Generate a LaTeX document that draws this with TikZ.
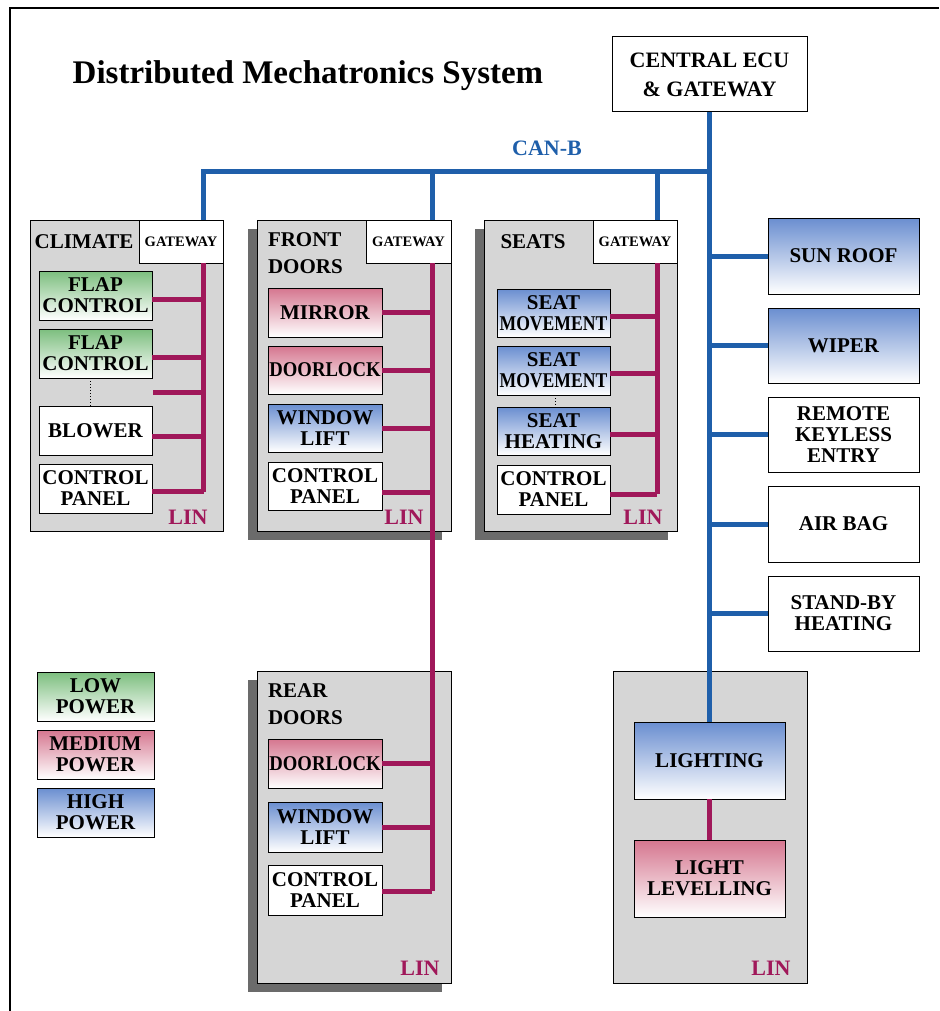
\documentclass[tikz,border=0pt]{standalone}
\usepackage{fontspec}
\setmainfont{Liberation Serif}
\usetikzlibrary{shadows}
\definecolor{canblue}{HTML}{1F5FAA}
\definecolor{linmag}{HTML}{A0185A}
\definecolor{contgray}{HTML}{D6D6D6}
\definecolor{shadowgray}{HTML}{6B6B6B}
\definecolor{greentop}{HTML}{7CBE7E}
\definecolor{pinktop}{HTML}{D5768F}
\definecolor{bluetop}{HTML}{6A8ED0}
\newcommand\bx[7]{\node[#6, minimum width={(#4-#2)*1pt}, minimum height={(#5-#3)*1pt}] (#1) at ({(#2+#4)/2},{(#3+#5)/2}) {#7};}
\newcommand\sq[2]{\scalebox{#1}[1]{#2}}
\tikzset{
  every node/.style={font=\bfseries\fontsize{21}{21}\selectfont, align=center, inner sep=0pt, outer sep=0pt},
  unit/.style={draw=black, line width=1pt, fill=white},
  lowp/.style={unit, top color=greentop, bottom color=white, draw=black},
  medp/.style={unit, top color=pinktop, bottom color=white, draw=black},
  highp/.style={unit, top color=bluetop, bottom color=white, draw=black},
  gw/.style={unit, font=\bfseries\fontsize{14.5}{14.5}\selectfont},
  cont/.style={draw=black, line width=1pt, fill=contgray},
  contsh/.style={cont, drop shadow={shadow xshift=-9pt, shadow yshift=-9pt, fill=shadowgray, opacity=1}},
  can/.style={draw=canblue, line width=5pt},
  lin/.style={draw=linmag, line width=5pt},
  linlabel/.style={text=linmag, font=\bfseries\fontsize{22}{22}\selectfont},
  dots/.style={draw=black, dotted, line width=1pt},
  grp/.style={anchor=north west, align=left, font=\bfseries\fontsize{21}{27}\selectfont}
}
\begin{document}
\begin{tikzpicture}[x=1pt,y=-1pt]
\useasboundingbox (0,0) rectangle (939,1011);
\draw[line width=1.2pt] (10,1011) -- (10,8) -- (939,8);

\node[font=\bfseries\fontsize{33}{33}\selectfont] (title) at (308,76) {Distributed Mechatronics System};
\bx{ecu}{612}{37}{807}{112}{unit, font=\bfseries\fontsize{22}{29}\selectfont}{CENTRAL ECU\\\& GATEWAY}
\node[text=canblue, font=\bfseries\fontsize{22}{22}\selectfont] (canlabel) at (547,148) {CAN-B};

% ---------- CLIMATE ----------
\bx{climate}{30}{220}{223}{531}{cont}{}
\bx{gwc}{139}{220}{223}{263}{gw}{GATEWAY}
\node[grp, anchor=center] (climl) at (84,242) {CLIMATE};
\bx{flap1}{39}{271}{152}{320}{lowp}{FLAP\\CONTROL}
\bx{flap2}{39}{329}{152}{378}{lowp}{FLAP\\CONTROL}
\bx{blower}{39}{406}{152}{455}{unit}{BLOWER}
\bx{cpc}{39}{464}{152}{513}{unit}{CONTROL\\PANEL}
\node[linlabel] (linc) at (188,517) {LIN};

% ---------- FRONT DOORS ----------
\bx{front}{257}{220}{451}{531}{contsh}{}
\bx{gwf}{366}{220}{451}{263}{gw}{GATEWAY}
\node[grp] (frontl) at (268,233) {FRONT\\DOORS};
\bx{mirror}{268}{288}{382}{337}{medp}{MIRROR}
\bx{dlf}{268}{346}{382}{394}{medp}{\sq{0.89}{DOORLOCK}}
\bx{wlf}{268}{404}{382}{452}{highp}{WINDOW\\LIFT}
\bx{cpf}{268}{462}{382}{510}{unit}{CONTROL\\PANEL}
\node[linlabel] (linf) at (404,517) {LIN};

% ---------- SEATS ----------
\bx{seats}{484}{220}{677}{531}{contsh}{}
\bx{gws}{593}{220}{677}{263}{gw}{GATEWAY}
\node[grp, anchor=center] (seatsl) at (533,242) {SEATS};
\bx{sm1}{497}{289}{610}{337}{highp}{SEAT\\\sq{0.84}{MOVEMENT}}
\bx{sm2}{497}{346}{610}{395}{highp}{SEAT\\\sq{0.84}{MOVEMENT}}
\bx{sh}{497}{407}{610}{455}{highp}{SEAT\\HEATING}
\bx{cps}{497}{465}{610}{514}{unit}{CONTROL\\PANEL}
\node[linlabel] (lins) at (643,517) {LIN};

% ---------- RIGHT COLUMN ----------
\bx{sunroof}{768}{218}{919}{294}{highp}{SUN ROOF}
\bx{wiper}{768}{308}{919}{383}{highp}{WIPER}
\bx{rke}{768}{397}{919}{472}{unit}{REMOTE\\KEYLESS\\ENTRY}
\bx{airbag}{768}{486}{919}{562}{unit}{AIR BAG}
\bx{standby}{768}{576}{919}{651}{unit}{STAND-BY\\HEATING}

% ---------- LEGEND ----------
\bx{leglow}{37}{672}{154}{721}{lowp}{LOW\\POWER}
\bx{legmed}{37}{730}{154}{779}{medp}{MEDIUM\\POWER}
\bx{leghigh}{37}{788}{154}{837}{highp}{HIGH\\POWER}

% ---------- REAR DOORS ----------
\bx{rear}{257}{671}{451}{983}{contsh}{}
\node[grp] (rearl) at (268,684) {REAR\\DOORS};
\bx{dlr}{268}{739}{382}{788}{medp}{\sq{0.89}{DOORLOCK}}
\bx{wlr}{268}{802}{382}{852}{highp}{WINDOW\\LIFT}
\bx{cpr}{268}{865}{382}{915}{unit}{CONTROL\\PANEL}
\node[linlabel] (linr) at (420,968) {LIN};

% ---------- LIGHTING ----------
\bx{lightbox}{613}{671}{807}{983}{cont}{}
\bx{lighting}{634}{722}{785}{799}{highp}{LIGHTING}
\bx{level}{634}{840}{785}{917}{medp}{LIGHT\\LEVELLING}
\node[linlabel] (linl) at (771,968) {LIN};

% ---------- coordinates ----------
\coordinate (busC) at (203,492);
\coordinate (busF) at (432,891);
\coordinate (busS) at (657,494);
\coordinate (canC) at (203,172);
\coordinate (stub3) at (153,392);

% ---------- CAN-B ----------
\draw[can] (ecu.south) -- (lighting.north);
\draw[can] (gwc.north -| canC) -- (canC) -- (canC -| ecu.south);
\draw[can] (gwf.north -| busF) -- (busF |- canC);
\draw[can] (gws.north -| busS) -- (busS |- canC);
\foreach \n in {sunroof,wiper,rke,airbag,standby}
  \draw[can] (\n.west) -- (\n.west -| ecu.south);

% ---------- LIN ----------
\draw[lin] (gwc.south -| busC) -- (busC);
\draw[lin] (flap1.east) ++(0,4) -- ++(52,0);
\draw[lin] (flap2.east) ++(0,4) -- ++(52,0);
\draw[lin] (stub3) -- (stub3 -| busC);
\draw[lin] (blower.east) ++(0,6) -- ++(52,0);
\draw[lin] (cpc.east) ++(0,3) -- ++(52,0);
\draw[dots] (90,378) -- (90,406);

\draw[lin] (gwf.south -| busF) -- (busF);
\foreach \n in {mirror,dlf,wlf,dlr,wlr}
  \draw[lin] (\n.east) -- (\n.east -| busF);
\draw[lin] (cpf.east) ++(0,6) -- ++(50,0);
\draw[lin] (cpr.east) ++(0,1) -- ++(50,0);

\draw[lin] (gws.south -| busS) -- (busS);
\foreach \n in {sm1,sm2,sh}
  \draw[lin] (\n.east) ++(0,3) -- ++(47,0);
\draw[lin] (cps.east) ++(0,5) -- ++(47,0);
\draw[dots] (555,395) -- (555,407);

\draw[lin] (lighting.south) -- (level.north);
\end{tikzpicture}
\end{document}
